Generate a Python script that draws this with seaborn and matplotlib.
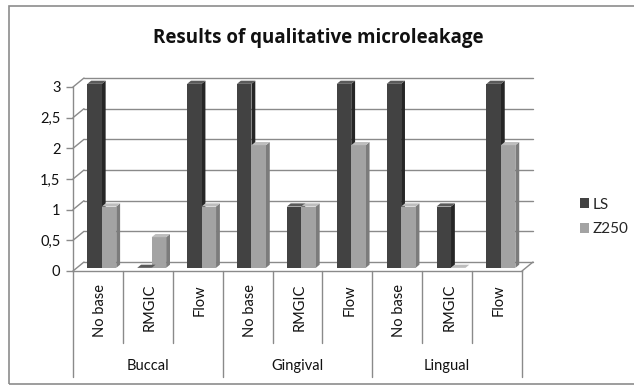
import numpy as np
import pandas as pd
import matplotlib
matplotlib.use("Agg")
import matplotlib.pyplot as plt
from matplotlib.patches import Polygon, Rectangle
from matplotlib.transforms import ScaledTranslation
import seaborn as sns

# ---- data ----
sites = ["Buccal", "Gingival", "Lingual"]
bases = ["No base", "RMGIC", "Flow"]
ls_values = [3, 0, 3, 3, 1, 3, 3, 1, 3]
z250_values = [1, 0.5, 1, 2, 1, 2, 1, 0, 2]
materials = ["LS", "Z250"]
y_ticks = [0, 0.5, 1, 1.5, 2, 2.5, 3]
y_tick_labels = ["0", "0,5", "1", "1,5", "2", "2,5", "3"]
title = "Results of qualitative microleakage"

slots = [f"{s}|{b}" for s in sites for b in bases]
df = pd.DataFrame({
    "slot": slots * 2,
    "material": ["LS"] * 9 + ["Z250"] * 9,
    "value": ls_values + z250_values,
})

sns.set_theme(style="white")
plt.rcParams["font.family"] = ["Lato", "DejaVu Sans"]

W, H, DPI = 634, 385, 100
fig = plt.figure(figsize=(W / DPI, H / DPI), dpi=DPI)
fig.patch.set_facecolor("white")

# plot box in pixels (front plane)
x0, x1, yb, yt = 73, 522, 271, 87
ax = fig.add_axes([x0 / W, 1 - yb / H, (x1 - x0) / W, (yb - yt) / H])
ax.set_facecolor("none")

front_cols = {"LS": "#424242", "Z250": "#a3a3a3"}
side_cols = {"LS": "#262626", "Z250": "#7c7c7c"}
top_cols = {"LS": "#5a5a5a", "Z250": "#bdbdbd"}

sns.barplot(data=df, x="slot", y="value", hue="material", order=slots,
            hue_order=materials, palette=front_cols, width=0.58,
            linewidth=0, saturation=1, ax=ax, zorder=3)
ax.set_xlim(-0.5, 8.5)
ax.set_ylim(0, 3)

# pixel -> data conversions
px_x = (x1 - x0) / 9.0
px_y = (yb - yt) / 3.0
DX, DY = 11.0, 9.0          # full depth of the box, pixels
grid_c = "#8a8a8a"


def shift(dx_px, dy_px):
    return ax.transData + ScaledTranslation(dx_px / DPI, dy_px / DPI, fig.dpi_scale_trans)


back = shift(DX, DY)
# back wall gridlines and left wall slanted lines
for v in y_ticks:
    ax.plot([-0.5, 8.5], [v, v], color=grid_c, lw=1, transform=back,
            clip_on=False, zorder=1)
    ax.plot([-0.5, -0.5 + DX / px_x], [v, v + DY / px_y], color=grid_c, lw=1,
            clip_on=False, zorder=1)
# floor right edge
ax.plot([8.5, 8.5 + DX / px_x], [0, DY / px_y], color=grid_c, lw=1,
        clip_on=False, zorder=1)

# bars sit in the middle of the depth; add side and top faces
f0, f1 = 0.35, 0.70
front = shift(DX * f0, DY * f0)
bdx = DX * (f1 - f0) / px_x
bdy = DY * (f1 - f0) / px_y
bars = [p for p in ax.patches if isinstance(p, Rectangle) and p.get_width() < 1]
for p in bars:
    if p.get_width() == 0:
        continue
    col = p.get_facecolor()
    mat = "LS" if np.allclose(col[:3], matplotlib.colors.to_rgb(front_cols["LS"])) else "Z250"
    x, w, h = p.get_x(), p.get_width(), p.get_height()
    p.set_transform(front)
    side = Polygon([(x + w, 0), (x + w + bdx, bdy), (x + w + bdx, h + bdy), (x + w, h)],
                   closed=True, facecolor=side_cols[mat], edgecolor="none",
                   transform=front, zorder=2.9, clip_on=False)
    top = Polygon([(x, h), (x + bdx, h + bdy), (x + w + bdx, h + bdy), (x + w, h)],
                  closed=True, facecolor=top_cols[mat], edgecolor="none",
                  transform=front, zorder=3.1, clip_on=False)
    ax.add_patch(side)
    ax.add_patch(top)
    p.set_clip_on(False)

# axes, ticks
for s in ["top", "right"]:
    ax.spines[s].set_visible(False)
for s in ["left", "bottom"]:
    ax.spines[s].set_color(grid_c)
    ax.spines[s].set_linewidth(1)
ax.set_yticks(y_ticks)
ax.set_yticklabels(y_tick_labels, fontsize=10.5, color="#111111")
ax.tick_params(axis="y", left=True, length=5, width=1, color=grid_c, pad=4)
ax.set_xticks([])
ax.set_xlabel("")
ax.set_ylabel("")

# category table under the floor
ah = yb - yt
short_end = -(343 - yb) / ah
long_end = -(377 - yb) / ah
xt = ax.get_xaxis_transform()
for i in range(10):
    xe = i - 0.5
    end = long_end if i % 3 == 0 else short_end
    ax.plot([xe, xe], [0, end], color=grid_c, lw=1, transform=xt, clip_on=False)
for i, slot in enumerate(slots):
    ax.text(i + 0.04, -(284 - yb) / ah, slot.split("|")[1], rotation=90,
            ha="center", va="top", fontsize=10.5, color="#111111", transform=xt)
for g, site in enumerate(sites):
    ax.text(g * 3 + 1, -(366 - yb) / ah, site, ha="center", va="center",
            fontsize=10.5, color="#111111", transform=xt)

# legend
sns.move_legend(ax, loc="center left", bbox_to_anchor=(566 / W, 1 - 217 / H),
                bbox_transform=fig.transFigure, frameon=False, title=None,
                fontsize=11, handlelength=0.6, handleheight=0.6,
                handletextpad=0.25, labelspacing=0.7)

fig.text(318 / W, 1 - 38 / H, title, ha="center", va="center",
         fontsize=13.5, fontweight="bold", color="#111111",
         family=["Open Sans", "DejaVu Sans"])

# chart frame
fig.add_artist(Rectangle((9 / W, 1 - 384 / H), (W + 5 - 9) / W, (384 - 6) / H,
                         transform=fig.transFigure, fill=False,
                         edgecolor="#8c8c8c", lw=1.2))

fig.savefig("out.png", dpi=DPI, facecolor="white")
